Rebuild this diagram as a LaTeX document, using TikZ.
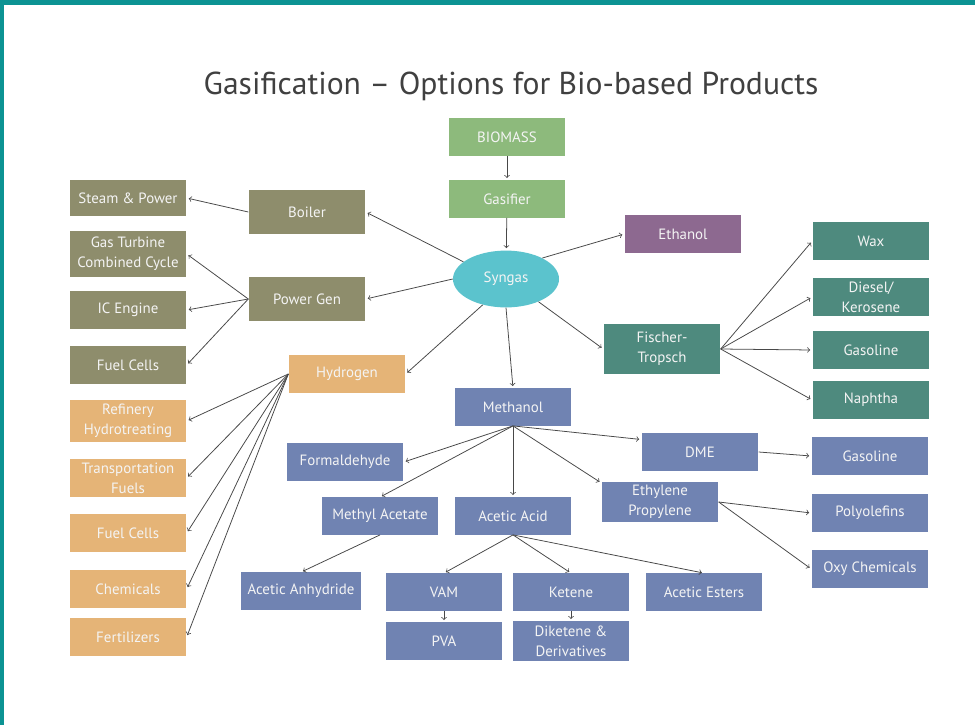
\documentclass[tikz,border=0pt]{standalone}
\usepackage{fontspec}
\setmainfont{PT Sans}
\usepackage{tikz}
\usetikzlibrary{arrows,shapes.geometric}

\definecolor{framecol}{HTML}{0C9393}
\definecolor{greenbox}{HTML}{8DBA7C}
\definecolor{olivebox}{HTML}{8E8D6C}
\definecolor{orangebox}{HTML}{E5B477}
\definecolor{bluebox}{HTML}{7083B2}
\definecolor{tealbox}{HTML}{4E8A7E}
\definecolor{purplebox}{HTML}{8D6990}
\definecolor{cyanoval}{HTML}{5BC3CD}
\definecolor{boxtext}{HTML}{F4F4F4}
\definecolor{titletext}{HTML}{404040}
\definecolor{linecol}{HTML}{484848}

\begin{document}
\begin{tikzpicture}[x=0.025cm, y=-0.025cm,
    box/.style={rectangle, fill=#1, text=boxtext, minimum width=2.92cm,
        minimum height=0.93cm, inner sep=1pt, align=center,
        font=\fontsize{10.6}{14}\selectfont},
    conn/.style={->, line width=0.55pt, color=linecol, shorten >=1.5pt}]
%%%%% Frame %%%%%
\useasboundingbox (0,0) rectangle (975,725);
\fill[white] (0,0) rectangle (975,725);
\fill[framecol] (0,0) rectangle (975,5);
\fill[framecol] (0,0) rectangle (4,725);
\node[text=titletext, font=\fontsize{22.5}{26}\selectfont] (title) at (511,86) {Gasification -- Options for Bio-based Products};

%%%%% Main line %%%%%
\node[box=greenbox] (biomass) at (507,137) {BIOMASS};
\node[box=greenbox] (gasifier) at (507,199) {Gasifier};
\node[ellipse, fill=cyanoval, text=boxtext, minimum width=2.65cm, minimum height=1.42cm,
    font=\fontsize{10.6}{14}\selectfont] (syngas) at (506,279) {Syngas};
\node[box=purplebox] (ethanol) at (683,234) {Ethanol};

%%%%% Power %%%%%
\node[box=olivebox, minimum height=1.12cm] (boiler) at (307,212) {Boiler};
\node[box=olivebox, minimum height=1.12cm] (powergen) at (307,299) {Power Gen};
\node[box=olivebox, minimum height=0.88cm] (steam) at (128,198) {Steam \& Power};
\node[box=olivebox, minimum height=1.15cm] (turbine) at (128,254) {Gas Turbine\\Combined Cycle};
\node[box=olivebox] (icengine) at (128,310) {IC Engine};
\node[box=olivebox] (fuelcellsA) at (128,365) {Fuel Cells};

%%%%% Hydrogen %%%%%
\node[box=orangebox] (hydrogen) at (347,374) {Hydrogen};
\node[box=orangebox, minimum height=1.03cm] (refinery) at (128,421) {Refinery\\Hydrotreating};
\node[box=orangebox] (transport) at (128,478) {Transportation\\Fuels};
\node[box=orangebox] (fuelcellsB) at (128,533) {Fuel Cells};
\node[box=orangebox] (chemicals) at (128,589) {Chemicals};
\node[box=orangebox] (fertilizers) at (128,637) {Fertilizers};

%%%%% Fischer-Tropsch %%%%%
\node[box=tealbox, minimum height=1.27cm] (fischer) at (662,349) {Fischer-\\Tropsch};
\node[box=tealbox] (wax) at (871,241) {Wax};
\node[box=tealbox] (diesel) at (871,297) {Diesel/\\Kerosene};
\node[box=tealbox] (gasolineA) at (871,350) {Gasoline};
\node[box=tealbox] (naphtha) at (871,400) {Naphtha};

%%%%% Methanol %%%%%
\node[box=bluebox] (methanol) at (513,407) {Methanol};
\node[box=bluebox] (formaldehyde) at (345,462) {Formaldehyde};
\node[box=bluebox] (methylacetate) at (380,516) {Methyl Acetate};
\node[box=bluebox] (aceticacid) at (513,516) {Acetic Acid};
\node[box=bluebox] (dme) at (700,452) {DME};
\node[box=bluebox, minimum height=1cm] (ethylene) at (660,502) {Ethylene\\Propylene};
\node[box=bluebox, minimum width=3cm] (anhydride) at (301,591) {Acetic Anhydride};
\node[box=bluebox] (vam) at (444,592) {VAM};
\node[box=bluebox] (ketene) at (571,592) {Ketene};
\node[box=bluebox] (esters) at (704,592) {Acetic Esters};
\node[box=bluebox] (pva) at (444,641) {PVA};
\node[box=bluebox, minimum height=0.98cm] (diketene) at (571,641) {Diketene \&\\Derivatives};
\node[box=bluebox] (gasolineB) at (870,456) {Gasoline};
\node[box=bluebox] (polyolefins) at (870,513) {Polyolefins};
\node[box=bluebox] (oxy) at (870,569) {Oxy Chemicals};

%%%%% Connectors %%%%%
\draw[conn] (biomass) -- (gasifier);
\draw[conn] (gasifier) -- (syngas);
\draw[conn] (syngas.158) -- (boiler.east);
\draw[conn] (syngas.west) -- (powergen.east);
\draw[conn] (syngas.228) -- (hydrogen.east);
\draw[conn] (syngas.south) -- (methanol.north);
\draw[conn] (syngas.-35) -- (fischer.west);
\draw[conn] (syngas.30) -- (ethanol.west);
\draw[conn] (boiler.west) -- (steam.east);
\foreach \t in {turbine,icengine,fuelcellsA}{
\draw[conn] (powergen.west) -- (\t.east);
}
\foreach \t in {refinery,transport,fuelcellsB,chemicals,fertilizers}{
\draw[conn] (hydrogen.west) -- (\t.east);
}
\foreach \t in {wax,diesel,gasolineA,naphtha}{
\draw[conn] (fischer.east) -- (\t.west);
}
\draw[conn] (methanol.south) -- (formaldehyde.east);
\draw[conn] (methanol.south) -- (methylacetate.north);
\draw[conn] (methanol.south) -- (aceticacid.north);
\draw[conn] (methanol.south) -- (dme.168);
\draw[conn] (methanol.south) -- (ethylene.162);
\draw[conn] (methylacetate.south) -- (anhydride.north);
\foreach \t in {vam,ketene,esters}{
\draw[conn] (aceticacid.south) -- (\t.north);
}
\draw[conn] (vam) -- (pva);
\draw[conn] (ketene) -- (diketene);
\draw[conn] (dme.east) -- (gasolineB.west);
\draw[conn] (ethylene.east) -- (polyolefins.west);
\draw[conn] (ethylene.east) -- (oxy.west);
\end{tikzpicture}
\end{document}
